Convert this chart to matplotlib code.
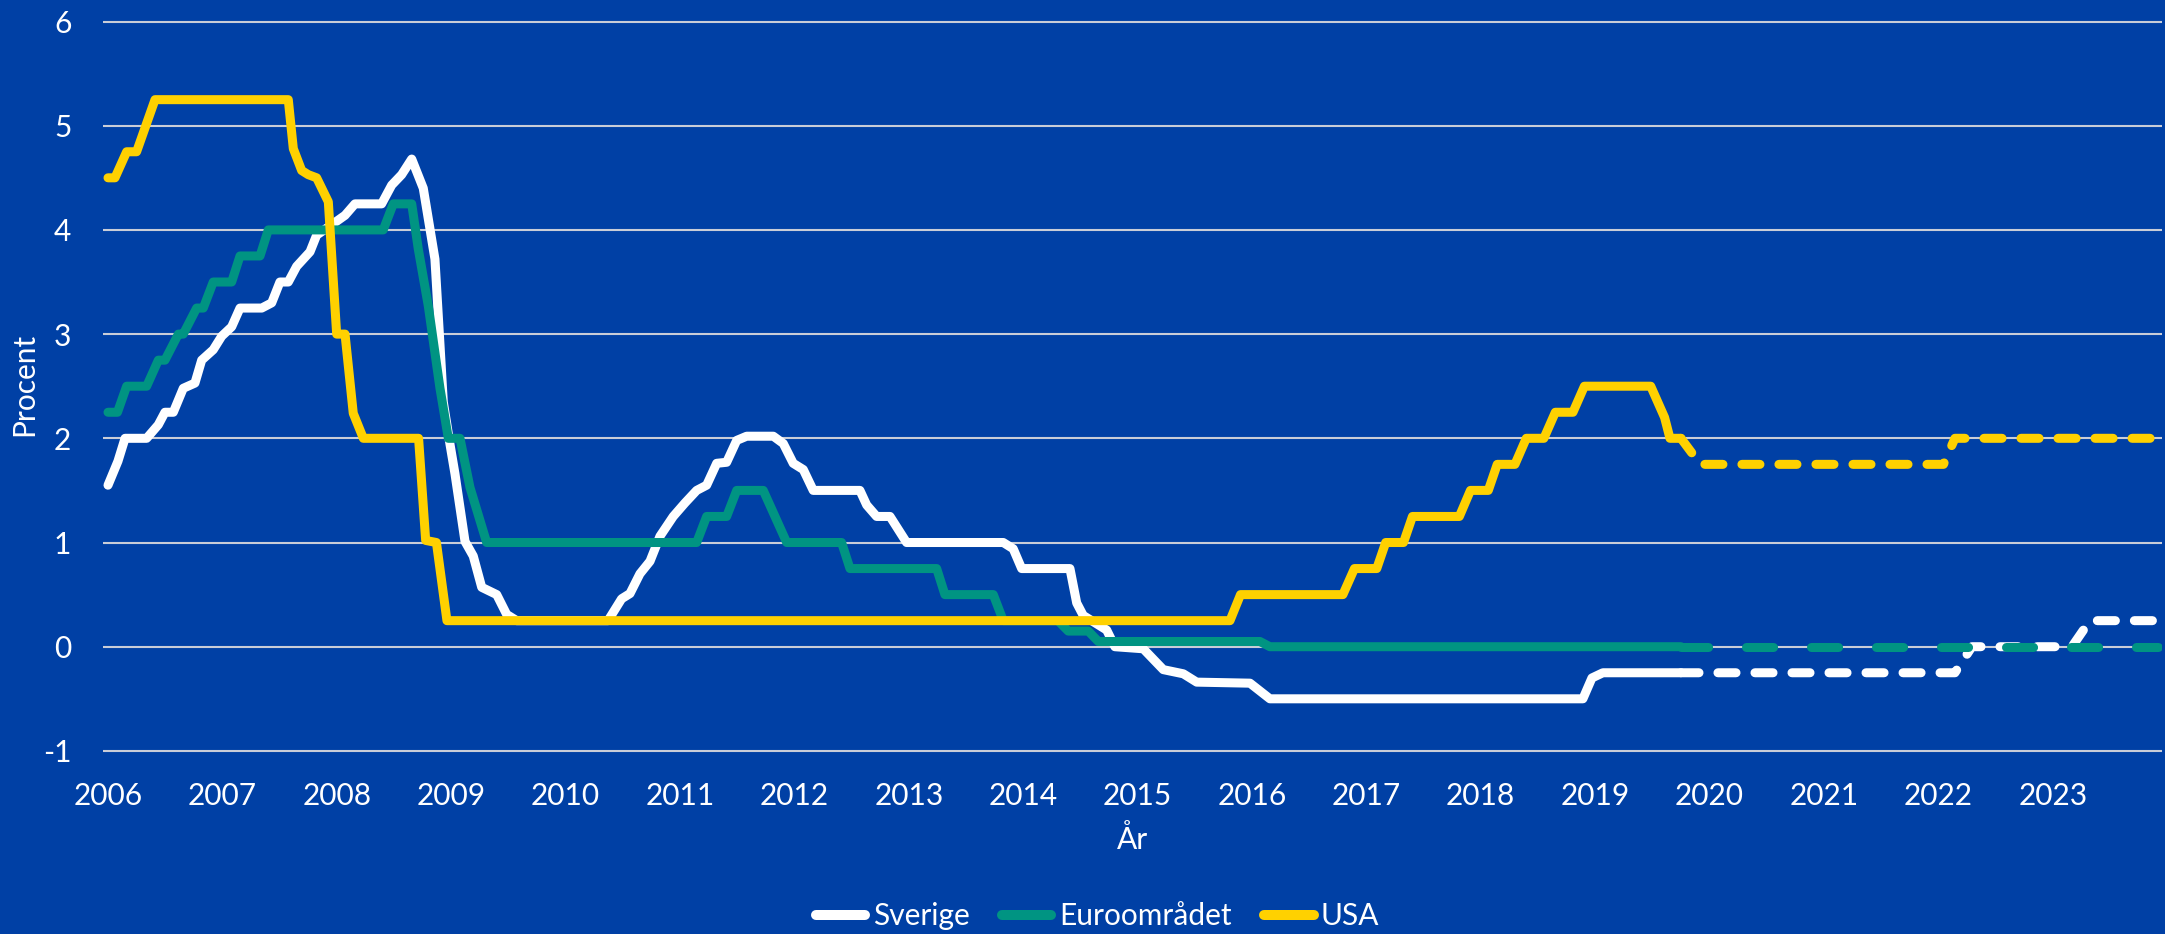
import matplotlib
matplotlib.use("Agg")
import matplotlib.pyplot as plt

# ---------------- data (decimal years, percent) ----------------
sverige_x = [2006.000, 2006.087, 2006.149, 2006.338, 2006.440, 2006.498, 2006.571, 2006.658,
             2006.760, 2006.819, 2006.920, 2006.994, 2007.081, 2007.154, 2007.344, 2007.431,
             2007.503, 2007.576, 2007.649, 2007.766, 2007.824, 2007.969, 2008.072, 2008.159,
             2008.392, 2008.480, 2008.567, 2008.655, 2008.756, 2008.858, 2008.902, 2008.931,
             2008.990, 2009.033, 2009.121, 2009.193, 2009.267, 2009.398, 2009.485, 2009.573,
             2010.371, 2010.490, 2010.563, 2010.650, 2010.738, 2010.825, 2010.941, 2011.044,
             2011.146, 2011.233, 2011.321, 2011.408, 2011.496, 2011.583, 2011.816, 2011.903,
             2011.990, 2012.078, 2012.165, 2012.573, 2012.632, 2012.719, 2012.836, 2012.981,
             2013.826, 2013.913, 2013.987, 2014.409, 2014.468, 2014.525, 2014.730, 2014.802,
             2015.050, 2015.225, 2015.400, 2015.517, 2015.983, 2016.157, 2018.893, 2018.972,
             2019.068, 2019.750]
sverige_y = [1.55, 1.78, 2.00, 2.00, 2.13, 2.25, 2.25, 2.48,
             2.53, 2.75, 2.85, 2.98, 3.07, 3.25, 3.25, 3.30,
             3.50, 3.50, 3.65, 3.79, 3.95, 4.06, 4.14, 4.25,
             4.25, 4.43, 4.53, 4.68, 4.40, 3.72, 2.90, 2.35,
             1.94, 1.66, 1.01, 0.87, 0.57, 0.50, 0.31, 0.25,
             0.25, 0.46, 0.51, 0.70, 0.82, 1.06, 1.25, 1.38,
             1.50, 1.55, 1.76, 1.77, 1.98, 2.02, 2.02, 1.95,
             1.76, 1.70, 1.50, 1.50, 1.36, 1.25, 1.25, 1.00,
             1.00, 0.94, 0.75, 0.75, 0.42, 0.30, 0.16, 0.00,
             -0.02, -0.22, -0.26, -0.34, -0.35, -0.50, -0.50, -0.30,
             -0.25, -0.25]
sverige_fc_x = [2019.750, 2022.145, 2022.294, 2023.168, 2023.325, 2023.917]
sverige_fc_y = [-0.25, -0.25, 0.00, 0.00, 0.25, 0.25]

euro_x = [2006.000, 2006.083, 2006.163, 2006.338, 2006.440, 2006.498, 2006.615, 2006.658,
          2006.775, 2006.833, 2006.920, 2007.081, 2007.154, 2007.329, 2007.401, 2008.406,
          2008.494, 2008.655, 2008.712, 2008.800, 2008.902, 2008.975, 2009.077, 2009.164,
          2009.310, 2011.146, 2011.233, 2011.408, 2011.496, 2011.728, 2011.933, 2012.413,
          2012.486, 2013.244, 2013.316, 2013.739, 2013.826, 2014.304, 2014.394, 2014.569,
          2014.657, 2016.070, 2016.157, 2019.750]
euro_y = [2.25, 2.25, 2.50, 2.50, 2.75, 2.75, 3.00, 3.00,
          3.25, 3.25, 3.50, 3.50, 3.75, 3.75, 4.00, 4.00,
          4.25, 4.25, 3.82, 3.27, 2.48, 2.00, 2.00, 1.53,
          1.00, 1.00, 1.25, 1.25, 1.50, 1.50, 1.00, 1.00,
          0.75, 0.75, 0.50, 0.50, 0.25, 0.25, 0.15, 0.15,
          0.05, 0.05, 0.00, 0.00]
euro_fc_x = [2019.750, 2023.917]
euro_fc_y = [0.00, 0.00]

usa_x = [2006.000, 2006.061, 2006.163, 2006.250, 2006.411, 2007.576, 2007.620, 2007.693,
         2007.751, 2007.824, 2007.926, 2007.999, 2008.072, 2008.144, 2008.232, 2008.715,
         2008.777, 2008.871, 2008.963, 2015.808, 2015.900, 2016.795, 2016.896, 2017.091,
         2017.169, 2017.325, 2017.403, 2017.813, 2017.910, 2018.066, 2018.144, 2018.299,
         2018.398, 2018.552, 2018.652, 2018.806, 2018.906, 2019.486, 2019.607, 2019.654,
         2019.750]
usa_y = [4.50, 4.50, 4.75, 4.75, 5.25, 5.25, 4.78, 4.57,
         4.53, 4.50, 4.27, 3.00, 3.00, 2.24, 2.00, 2.00,
         1.02, 1.00, 0.25, 0.25, 0.50, 0.50, 0.75, 0.75,
         1.00, 1.00, 1.25, 1.25, 1.50, 1.50, 1.75, 1.75,
         2.00, 2.00, 2.25, 2.25, 2.50, 2.50, 2.20, 2.00,
         2.00]
usa_fc_x = [2019.750, 2019.920, 2022.045, 2022.145, 2023.917]
usa_fc_y = [2.00, 1.75, 1.75, 2.00, 2.00]

series_names = ["Sverige", "Euroområdet", "USA"]
year_ticks = list(range(2006, 2024))
y_ticks = [-1, 0, 1, 2, 3, 4, 5, 6]

# ---------------- style ----------------
BG = "#0040A5"
WHITE = "#FFFFFF"
GREEN = "#009482"
YELLOW = "#FFD100"
GRID = "#C9CDD8"
FONT = ["Lato", "DejaVu Sans"]
FS = 21.5
LW = 6.5

plt.rcParams["font.family"] = FONT
plt.rcParams["axes.unicode_minus"] = False

fig = plt.figure(figsize=(21.65, 9.34), dpi=100, facecolor=BG)
ax = fig.add_axes([0.04768, 0.1938, 0.9511, 0.7854])
ax.set_facecolor(BG)

common = dict(linewidth=LW, solid_capstyle="round", solid_joinstyle="round",
              dash_capstyle="round", dash_joinstyle="round")

# Sverige
ax.plot(sverige_x, sverige_y, color=WHITE, label=series_names[0], zorder=3, **common)
ax.plot(sverige_fc_x, sverige_fc_y, color=WHITE, linestyle=(0, (2.0, 2.1)), zorder=3, **common)
# Euroområdet
ax.plot(euro_x, euro_y, color=GREEN, label=series_names[1], zorder=4, **common)
ax.plot(euro_fc_x, euro_fc_y, color=GREEN, linestyle=(0, (3.0, 4.2)), zorder=4, **common)
# USA
ax.plot(usa_x, usa_y, color=YELLOW, label=series_names[2], zorder=5, **common)
ax.plot(usa_fc_x, usa_fc_y, color=YELLOW, linestyle=(0, (2.0, 2.1)), zorder=5, **common)

ax.set_xlim(2006 - 1 / 24, 2024 - 1 / 24)
ax.set_ylim(-1.02, 6.02)
ax.set_xticks(year_ticks)
ax.set_xticklabels([str(y) for y in year_ticks])
ax.set_yticks(y_ticks)
ax.set_yticklabels([str(v) for v in y_ticks])

ax.grid(axis="y", color=GRID, linewidth=1.5, zorder=1)
ax.grid(axis="x", visible=False)
ax.set_axisbelow(True)
for s in ax.spines.values():
    s.set_visible(False)
ax.tick_params(axis="both", length=0, colors=WHITE, labelsize=FS)
ax.tick_params(axis="x", pad=21)
ax.tick_params(axis="y", pad=23)

fig.text(0.011, 0.588, "Procent", rotation=90, color=WHITE, fontsize=FS,
         ha="center", va="center")
fig.text(0.04768 + 0.9511 / 2, 0.091, "År", color=WHITE, fontsize=FS,
         ha="center", va="baseline")

leg = fig.legend(loc="center", bbox_to_anchor=(0.507, 0.019), ncol=3, frameon=False,
                 handlelength=1.65, handletextpad=0.25, columnspacing=1.1,
                 labelcolor=WHITE, prop={"family": FONT, "size": FS})
for h in leg.legend_handles:
    h.set_linewidth(7.2)

fig.savefig("out.png", dpi=100, facecolor=BG)
